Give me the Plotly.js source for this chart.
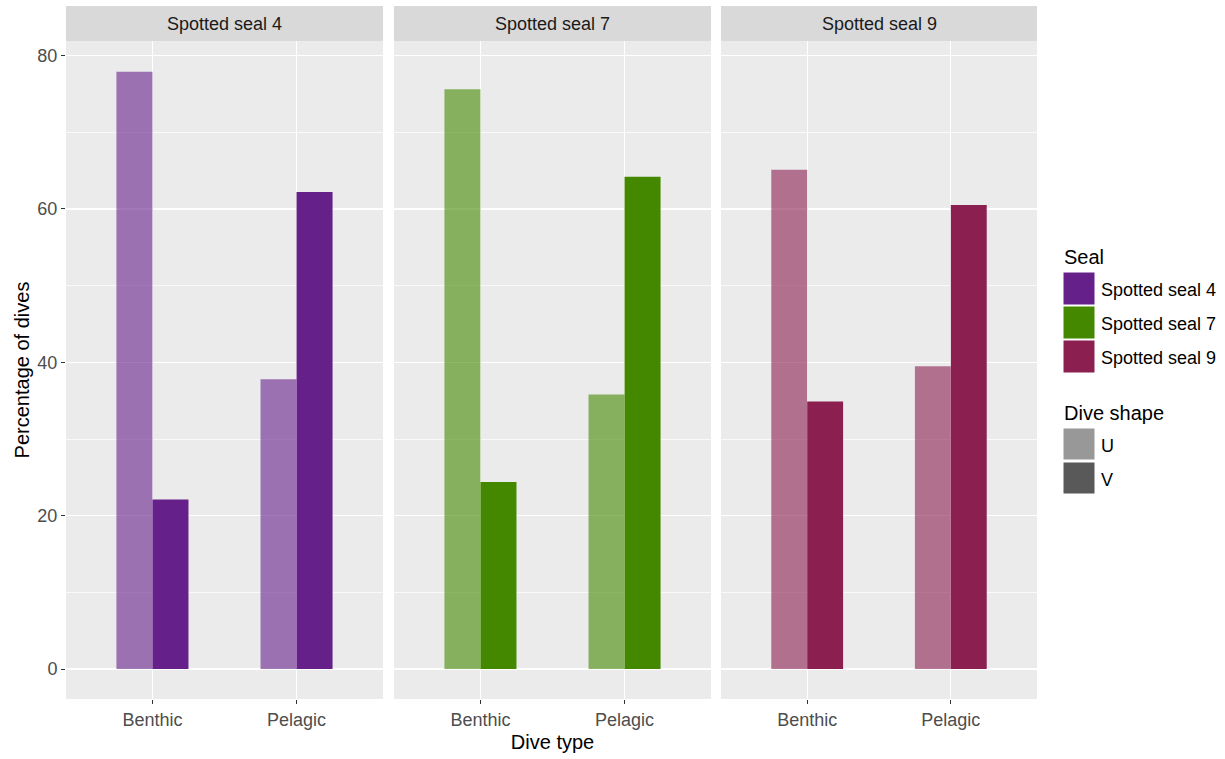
<!DOCTYPE html>
<html>
<head>
<meta charset="utf-8">
<script src="https://cdn.plot.ly/plotly-3.0.1.min.js"></script>
<style>html,body{margin:0;padding:0;background:#fff;}#chart{width:1225px;height:759px;}</style>
</head>
<body>
<div id="chart"></div>
<script>
// ---- data ----
const seals = ["Spotted seal 4", "Spotted seal 7", "Spotted seal 9"];
const diveTypes = ["Benthic", "Pelagic"];
const diveShapes = ["U", "V"];
const uPercent = [ [77.9, 37.8], [75.6, 35.8], [65.1, 39.5] ];   // per seal: Benthic, Pelagic
const vPercent = [ [22.1, 62.2], [24.4, 64.2], [34.9, 60.5] ];
const sealColors = ["#66208A", "#448800", "#8B1F50"];
const shapeKeyColors = ["#989898", "#595959"];
const yTicks = [0, 20, 40, 60, 80];

// ---- layout helpers (pixel -> paper) ----
const W = 1225, H = 759;
const mL = 66, mR = W - 1037, mT = 6, mB = H - 699;
const pw = W - mL - mR, ph = H - mT - mB;
const px = x => (x - mL) / pw;
const py = y => (H - mB - y) / ph;

const FONT = "Liberation Sans, Arial, sans-serif";
const panels = [[66, 383], [394, 711], [721, 1037]];
const panelTop = 41;

const traces = [];
const layout = {
  width: W, height: H,
  margin: {l: mL, r: mR, t: mT, b: mB},
  paper_bgcolor: "#FFFFFF",
  plot_bgcolor: "#EBEBEB",
  barmode: "group",
  bargap: 0.5,
  bargroupgap: 0,
  showlegend: false,
  font: {family: FONT, color: "#4D4D4D", size: 18},
  shapes: [],
  annotations: []
};

seals.forEach((s, i) => {
  const k = i === 0 ? "" : String(i + 1);
  const xa = "x" + k, ya = "y" + k;
  traces.push({
    type: "bar", x: diveTypes, y: uPercent[i], xaxis: xa, yaxis: ya,
    name: s + " U", marker: {color: sealColors[i], opacity: 0.6, line: {width: 0}},
    hovertemplate: "%{x}: %{y}<extra>" + s + " U</extra>"
  });
  traces.push({
    type: "bar", x: diveTypes, y: vPercent[i], xaxis: xa, yaxis: ya,
    name: s + " V", marker: {color: sealColors[i], opacity: 1, line: {width: 0}},
    hovertemplate: "%{x}: %{y}<extra>" + s + " V</extra>"
  });
  layout["xaxis" + k] = {
    domain: [px(panels[i][0]), px(panels[i][1])],
    anchor: ya,
    type: "category",
    range: [-0.6, 1.6],
    showgrid: true, gridcolor: "#FFFFFF", gridwidth: 1.2,
    zeroline: false, showline: false,
    ticks: "outside", ticklen: 4, tickwidth: 1, tickcolor: "#333333",
    tickfont: {family: FONT, size: 18, color: "#4D4D4D"},
    fixedrange: true
  };
  layout["yaxis" + k] = {
    domain: [0, py(panelTop)],
    anchor: xa,
    range: [-3.9, 81.9],
    tickvals: yTicks,
    showgrid: true, gridcolor: "#FFFFFF", gridwidth: 1.2,
    minor: {dtick: 10, tick0: 10, showgrid: true, gridcolor: "#FFFFFF", gridwidth: 0.7, ticks: ""},
    zeroline: false, showline: false,
    ticks: i === 0 ? "outside" : "", ticklen: 4, tickwidth: 1, tickcolor: "#333333",
    showticklabels: i === 0,
    tickfont: {family: FONT, size: 18, color: "#4D4D4D"},
    fixedrange: true
  };
  if (i > 0) layout["yaxis" + k].matches = "y";
  // strip
  layout.shapes.push({
    type: "rect", xref: "paper", yref: "paper",
    x0: px(panels[i][0]), x1: px(panels[i][1]), y0: py(panelTop), y1: py(6),
    fillcolor: "#D9D9D9", line: {width: 0}, layer: "below"
  });
  layout.annotations.push({
    xref: "paper", yref: "paper", x: (px(panels[i][0]) + px(panels[i][1])) / 2, y: py(24),
    xanchor: "center", yanchor: "middle", showarrow: false,
    text: s, font: {family: FONT, size: 18, color: "#1A1A1A"}
  });
});

layout.yaxis.title = {text: "Percentage of dives", font: {family: FONT, size: 20, color: "#000000"}, standoff: 2};
layout.xaxis2.title = {text: "Dive type", font: {family: FONT, size: 20, color: "#000000"}, standoff: 6};

// ---- manual legend ----
const keyX0 = 1063, keyX1 = 1095;
layout.annotations.push({
  xref: "paper", yref: "paper", x: px(1062), y: py(257), xanchor: "left", yanchor: "middle",
  showarrow: false, text: "Seal", font: {family: FONT, size: 20, color: "#000000"}
});
const sealKeyTops = [272, 306, 340];
seals.forEach((s, i) => {
  layout.shapes.push({
    type: "rect", xref: "paper", yref: "paper",
    x0: px(keyX0), x1: px(keyX1), y0: py(sealKeyTops[i] + 33), y1: py(sealKeyTops[i]),
    fillcolor: sealColors[i], line: {color: "#FFFFFF", width: 1}
  });
  layout.annotations.push({
    xref: "paper", yref: "paper", x: px(1099), y: py(sealKeyTops[i] + 18), xanchor: "left", yanchor: "middle",
    showarrow: false, text: s, font: {family: FONT, size: 18, color: "#000000"}
  });
});
layout.annotations.push({
  xref: "paper", yref: "paper", x: px(1062), y: py(413), xanchor: "left", yanchor: "middle",
  showarrow: false, text: "Dive shape", font: {family: FONT, size: 20, color: "#000000"}
});
const shapeKeyTops = [428, 462];
diveShapes.forEach((d, i) => {
  layout.shapes.push({
    type: "rect", xref: "paper", yref: "paper",
    x0: px(keyX0), x1: px(keyX1), y0: py(shapeKeyTops[i] + 32), y1: py(shapeKeyTops[i]),
    fillcolor: shapeKeyColors[i], line: {color: "#FFFFFF", width: 1}
  });
  layout.annotations.push({
    xref: "paper", yref: "paper", x: px(1099), y: py(shapeKeyTops[i] + 18), xanchor: "left", yanchor: "middle",
    showarrow: false, text: d, font: {family: FONT, size: 18, color: "#000000"}
  });
});

Plotly.newPlot("chart", traces, layout, {displayModeBar: false, staticPlot: true});
</script>
</body>
</html>
